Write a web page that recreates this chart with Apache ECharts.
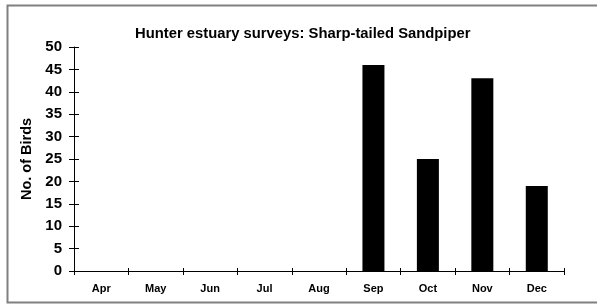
<!DOCTYPE html>
<html>
<head>
<meta charset="utf-8">
<script src="https://cdn.jsdelivr.net/npm/echarts@6/dist/echarts.min.js"></script>
<style>
  html, body { margin: 0; padding: 0; background: #fff; }
  #main { width: 597px; height: 304px; }
</style>
</head>
<body>
<div id="main"></div>
<script>
var months = ['Apr', 'May', 'Jun', 'Jul', 'Aug', 'Sep', 'Oct', 'Nov', 'Dec'];
var birds = [0, 0, 0, 0, 0, 46, 25, 43, 19];
var yTicks = { min: 0, max: 50, interval: 5 };

var myChart = echarts.init(document.getElementById('main'));
var font = 'Arial, "Liberation Sans", sans-serif';

var option = {
    backgroundColor: '#fff',
    animation: false,
    title: {
        text: 'Hunter estuary surveys: Sharp-tailed Sandpiper',
        left: 130,
        top: 21,
        textStyle: { fontFamily: font, fontSize: 14.8, fontWeight: 'bold', color: '#000' }
    },
    graphic: [{
        type: 'rect',
        shape: { x: 7.5, y: 5.5, width: 640, height: 297 },
        style: { fill: 'none', stroke: '#808080', lineWidth: 2 },
        silent: true
    }],
    grid: { left: 74, right: 33, top: 47, bottom: 33 },
    xAxis: [
        {
            type: 'category',
            data: months,
            axisLine: { lineStyle: { color: '#000', width: 1 } },
            axisTick: { show: true, length: 4, lineStyle: { color: '#000' } },
            axisLabel: { margin: 12, fontFamily: font, fontSize: 11, fontWeight: 'bold', color: '#000' }
        },
        {
            type: 'category',
            data: months,
            position: 'bottom',
            axisLine: { show: false },
            axisTick: { show: true, inside: true, length: 3, lineStyle: { color: '#000' } },
            axisLabel: { show: false }
        }
    ],
    yAxis: [
        {
            type: 'value',
            min: yTicks.min,
            max: yTicks.max,
            interval: yTicks.interval,
            name: 'No. of Birds',
            nameLocation: 'middle',
            nameGap: 39,
            nameTextStyle: { fontFamily: font, fontSize: 14.5, fontWeight: 'bold', color: '#000' },
            axisLine: { show: true, lineStyle: { color: '#000', width: 1 } },
            axisTick: { show: true, length: 5, lineStyle: { color: '#000' } },
            axisLabel: { margin: 12, fontFamily: font, fontSize: 15, fontWeight: 'bold', color: '#000' },
            splitLine: { show: false }
        },
        {
            type: 'value',
            min: yTicks.min,
            max: yTicks.max,
            interval: yTicks.interval,
            position: 'left',
            axisLine: { show: false },
            axisTick: { show: true, inside: true, length: 5, lineStyle: { color: '#000' } },
            axisLabel: { show: false },
            splitLine: { show: false }
        }
    ],
    series: [
        {
            name: 'Sharp-tailed Sandpiper',
            type: 'bar',
            data: birds,
            barWidth: 22,
            itemStyle: { color: '#000' }
        }
    ]
};

myChart.setOption(option);
</script>
</body>
</html>
